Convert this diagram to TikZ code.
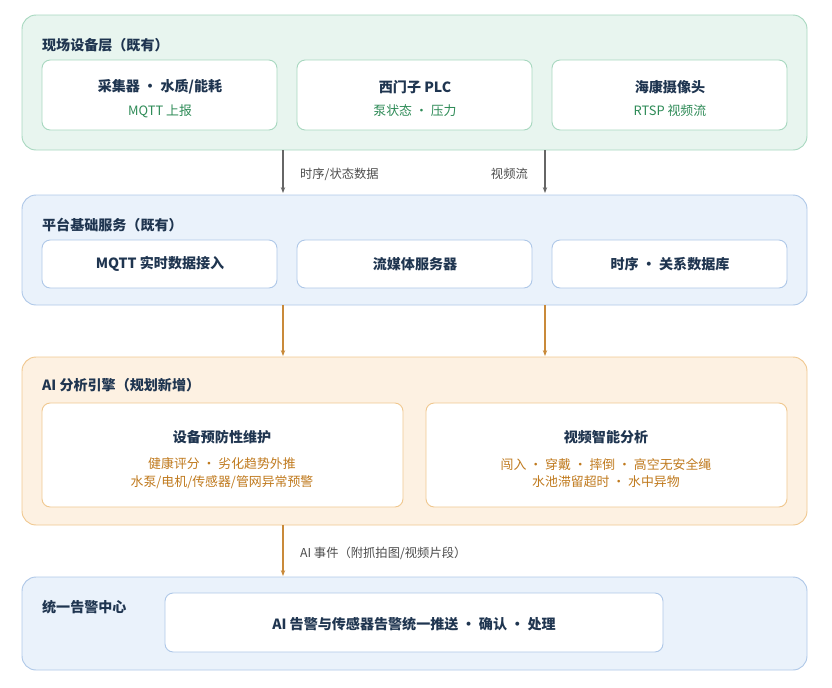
\documentclass[tikz,border=0pt]{standalone}
\usepackage{fontspec}
\setmainfont{Noto Sans CJK SC}
\usetikzlibrary{arrows.meta}
\definecolor{gfill}{HTML}{E8F5EF}\definecolor{gline}{HTML}{A8D8C0}\definecolor{gtext}{HTML}{2E8B57}
\definecolor{bfill}{HTML}{EAF2FB}\definecolor{bline}{HTML}{AFC8E8}\definecolor{btext}{HTML}{2F6FB0}
\definecolor{ofill}{HTML}{FDF1E2}\definecolor{oline}{HTML}{F0C890}\definecolor{otext}{HTML}{C07A1E}
\definecolor{ink}{HTML}{1F3550}\definecolor{garrow}{HTML}{666666}\definecolor{oarrow}{HTML}{C98A3A}
\begin{document}
\begin{tikzpicture}[x=0.03cm,y=-0.03cm,
    layer/.style={draw=#1,line width=0.8pt,rounded corners=12pt},
    card/.style={draw=#1,fill=white,line width=0.8pt,rounded corners=7pt},
    ttl/.style={anchor=west,font=\bfseries\fontsize{12}{14}\selectfont,text=ink},
    hd/.style={font=\bfseries\fontsize{12}{14}\selectfont,text=ink},
    sub/.style={font=\fontsize{11}{15}\selectfont,text=#1,align=center},
    arr/.style={-{Stealth[length=5pt]},line width=0.9pt,draw=#1},
    lbl/.style={font=\fontsize{10.5}{12}\selectfont,text=black!70}]
\useasboundingbox (0,0) rectangle (832,687);
% layer 1
\draw[layer=gline,fill=gfill] (22,15) rectangle (807,150);
\node[ttl] at (38,45) {现场设备层（既有）};
\draw[card=gline] (42,60) rectangle (277,130);
\draw[card=gline] (297,60) rectangle (532,130);
\draw[card=gline] (552,60) rectangle (787,130);
\node[hd] (c1) at (160,87) {采集器 · 水质/能耗};
\node[sub=gtext] at (160,111) {MQTT 上报};
\node[hd] (c2) at (415,87) {西门子 PLC};
\node[sub=gtext] at (415,111) {泵状态 · 压力};
\node[hd] (c3) at (670,87) {海康摄像头};
\node[sub=gtext] at (670,111) {RTSP 视频流};
% layer 2
\draw[layer=bline,fill=bfill] (22,195) rectangle (807,305);
\node[ttl] at (38,225) {平台基础服务（既有）};
\draw[card=bline] (42,240) rectangle (277,288);
\draw[card=bline] (297,240) rectangle (532,288);
\draw[card=bline] (552,240) rectangle (787,288);
\node[hd] at (160,264) {MQTT 实时数据接入};
\node[hd] at (415,264) {流媒体服务器};
\node[hd] at (670,264) {时序 · 关系数据库};
% layer 3
\draw[layer=oline,fill=ofill] (22,357) rectangle (807,525);
\node[ttl] at (38,385) {AI 分析引擎（规划新增）};
\draw[card=oline] (42,403) rectangle (403,507);
\draw[card=oline] (426,403) rectangle (787,507);
\node[hd] at (222,437) {设备预防性维护};
\node[sub=otext] at (222,473) {健康评分 · 劣化趋势外推\\水泵/电机/传感器/管网异常预警};
\node[hd] at (606,437) {视频智能分析};
\node[sub=otext] at (606,473) {闯入 · 穿戴 · 摔倒 · 高空无安全绳\\水池滞留超时 · 水中异物};
% layer 4
\draw[layer=bline,fill=bfill] (22,577) rectangle (807,670);
\node[ttl] at (38,607) {统一告警中心};
\draw[card=bline] (165,593) rectangle (663,652);
\node[hd] at (414,624) {AI 告警与传感器告警统一推送 · 确认 · 处理};
% connectors
\coordinate (a1) at (283,150); \coordinate (b1) at (283,193);
\coordinate (a2) at (545,150); \coordinate (b2) at (545,193);
\coordinate (a3) at (283,305); \coordinate (b3) at (283,356);
\coordinate (a4) at (545,305); \coordinate (b4) at (545,356);
\coordinate (a5) at (283,525); \coordinate (b5) at (283,576);
\draw[arr=garrow] (a1) -- (b1);
\draw[arr=garrow] (a2) -- (b2);
\draw[arr=oarrow] (a3) -- (b3);
\draw[arr=oarrow] (a4) -- (b4);
\draw[arr=oarrow] (a5) -- (b5);
\node[lbl,anchor=west] at (296,174) {时序/状态数据};
\node[lbl,anchor=east] at (532,174) {视频流};
\node[lbl,anchor=west] at (296,553) {AI 事件（附抓拍图/视频片段）};
\end{tikzpicture}
\end{document}
